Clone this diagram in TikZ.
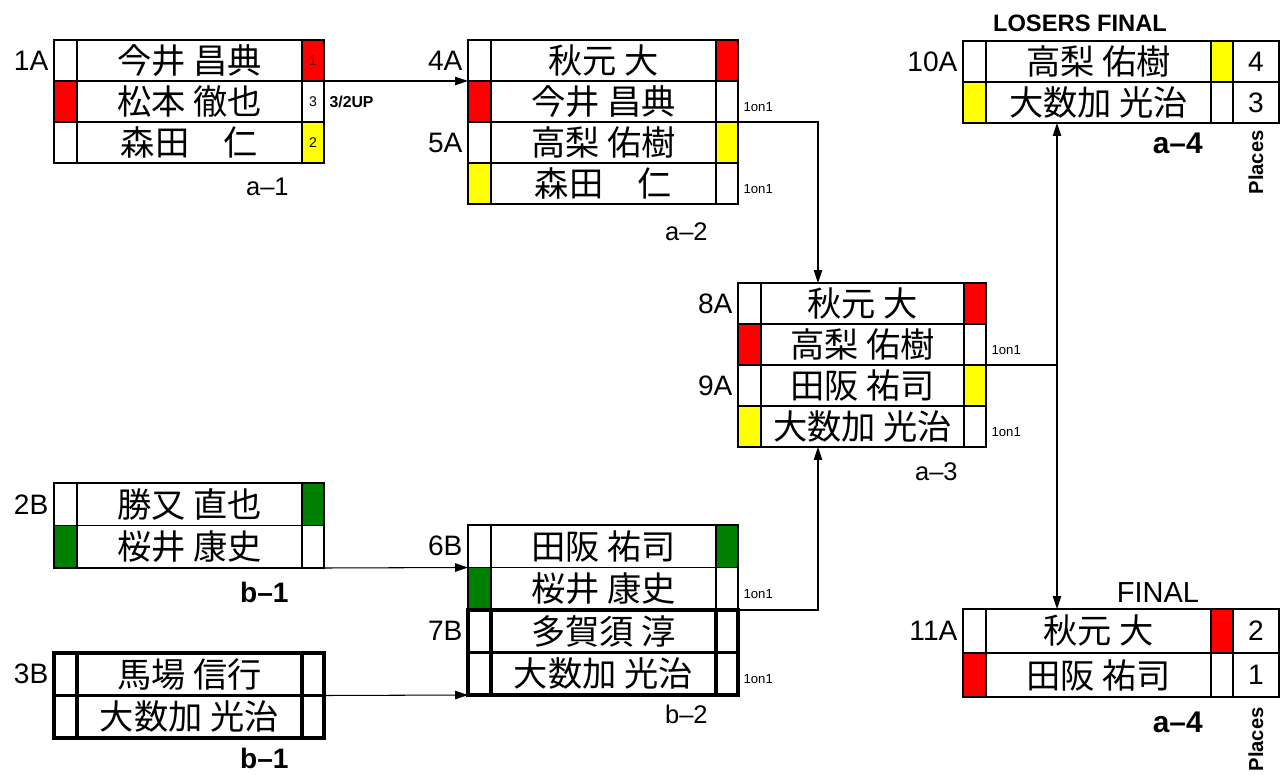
\documentclass[tikz,border=0pt]{standalone}
\usepackage{fontspec}
\setmainfont{Liberation Sans}
\newfontfamily\jp{Noto Sans CJK JP}
\usepackage{tikz}
\usetikzlibrary{arrows.meta,positioning}
\definecolor{winRed}{HTML}{FF0000}
\definecolor{winYellow}{HTML}{FFFF00}
\definecolor{winGreen}{HTML}{008000}
\newcommand{\namew}{4.5cm}
\newcommand{\rowh}{0.82cm}
\newcommand{\cellw}{1.1pt}
% one row of a match: seed cell, name, mark
\newcommand{\plrow}[7]{%
  \node[seed,fill=#4] (#1l) at (#2,#3) {};
  \node[pname,right=0pt of #1l] (#1n) {#5};
  \node[markcell,fill=#6,right=0pt of #1n] (#1r) {#7};}

\begin{document}
\begin{tikzpicture}[
  x=0.02cm,y=-0.02cm,
  cell/.style={draw,line width=\cellw,minimum height=\rowh,inner sep=0pt,outer sep=0pt},
  seed/.style={cell,minimum width=0.46cm,anchor=north west},
  pname/.style={cell,fill=white,minimum width=\namew,font=\jp\fontsize{19.5}{22}\selectfont},
  markcell/.style={cell,minimum width=0.44cm,font=\fontsize{8}{9}\selectfont},
  place/.style={cell,fill=white,minimum width=0.92cm,font=\fontsize{16}{18}\selectfont},
  tag/.style={font=\fontsize{16}{18}\selectfont,inner sep=1pt},
  rlab/.style={font=\fontsize{14.5}{16}\selectfont,anchor=north east,inner sep=0pt},
  blab/.style={rlab,font=\bfseries\fontsize{16}{18}\selectfont},
  note/.style={font=\fontsize{7.5}{8}\selectfont,inner sep=1pt,anchor=west},
  arr/.style={-{Triangle[length=2.6mm,width=1.7mm]},line width=0.6pt}
]
\useasboundingbox (0,0) rectangle (1280,774);

% a-1
\plrow{a1p1}{54}{40}{white}{今井 昌典}{winRed}{\textcolor{red!45!black}{1}}
\plrow{a1p2}{54}{81}{winRed}{松本 徹也}{white}{3}
\plrow{a1p3}{54}{122}{white}{森田　仁}{winYellow}{2}
\node[tag,left=2pt of a1p1l] (t1A) {1A};
\node[note,font=\bfseries\fontsize{9}{10}\selectfont] (up1) at ([xshift=2pt]a1p2r.east) {3/2UP};
\node[rlab] (la1) at ([shift={(-0.26cm,-0.3cm)}]a1p3n.south east) {a--1};

% a-2
\plrow{a2p1}{468}{40}{white}{秋元 大}{winRed}{}
\plrow{a2p2}{468}{81}{winRed}{今井 昌典}{white}{}
\plrow{a2p3}{468}{122}{white}{高梨 佑樹}{winYellow}{}
\plrow{a2p4}{468}{163}{winYellow}{森田　仁}{white}{}
\node[tag,left=2pt of a2p1l] (t4A) {4A};
\node[tag,left=2pt of a2p3l] (t5A) {5A};
\node[note] (n2a) at ([shift={(2pt,-3pt)}]a2p2r.east) {1on1};
\node[note] (n2b) at ([shift={(2pt,-3pt)}]a2p4r.east) {1on1};
\node[rlab] (la2) at ([shift={(-0.16cm,-0.36cm)}]a2p4n.south east) {a--2};

% a-3
\begin{scope}
\renewcommand{\namew}{4.06cm}
\plrow{a3p1}{738}{283}{white}{秋元 大}{winRed}{}
\plrow{a3p2}{738}{324}{winRed}{高梨 佑樹}{white}{}
\plrow{a3p3}{738}{365}{white}{田阪 祐司}{winYellow}{}
\plrow{a3p4}{738}{406}{winYellow}{大数加 光治}{white}{}
\end{scope}
\node[tag,left=2pt of a3p1l] (t8A) {8A};
\node[tag,left=2pt of a3p3l] (t9A) {9A};
\node[note] (n3a) at ([shift={(2pt,-3pt)}]a3p2r.east) {1on1};
\node[note] (n3b) at ([shift={(2pt,-3pt)}]a3p4r.east) {1on1};
\node[rlab] (la3) at ([shift={(-0.12cm,-0.3cm)}]a3p4n.south east) {a--3};

% losers final
\plrow{lfp1}{963}{41}{white}{高梨 佑樹}{winYellow}{}
\plrow{lfp2}{963}{82}{winYellow}{大数加 光治}{white}{}
\node[place,right=0pt of lfp1r] (lfp1p) {4};
\node[place,right=0pt of lfp2r] (lfp2p) {3};
\node[tag,left=2pt of lfp1l] (t10A) {10A};
\node[font=\bfseries\fontsize{13.5}{15}\selectfont,inner sep=0pt] (lfhead) at (1080,23) {LOSERS FINAL};
\node[blab,font=\bfseries\fontsize{17}{19}\selectfont] (la4a) at ([shift={(-0.16cm,-0.2cm)}]lfp2n.south east) {a--4};
\node[rotate=90,anchor=east,inner sep=0pt,font=\bfseries\fontsize{11.5}{13}\selectfont] (pl1) at ([yshift=-0.14cm]lfp2p.south) {Places};

% final
\begin{scope}
\renewcommand{\rowh}{0.88cm}
\plrow{fnp1}{963}{609}{white}{秋元 大}{winRed}{}
\plrow{fnp2}{963}{653}{winRed}{田阪 祐司}{white}{}
\node[place,right=0pt of fnp1r] (fnp1p) {2};
\node[place,right=0pt of fnp2r] (fnp2p) {1};
\end{scope}
\node[tag,left=2pt of fnp1l] (t11A) {11A};
\node[font=\fontsize{16.5}{18}\selectfont,inner sep=0pt] (fnhead) at (1158,593) {FINAL};
\node[blab,font=\bfseries\fontsize{17}{19}\selectfont] (la4b) at ([shift={(-0.16cm,-0.3cm)}]fnp2n.south east) {a--4};
\node[rotate=90,anchor=east,inner sep=0pt,font=\bfseries\fontsize{11.5}{13}\selectfont] (pl2) at ([yshift=-0.2cm]fnp2p.south) {Places};

% b-1
\begin{scope}
\renewcommand{\rowh}{0.85cm}
\plrow{b1p1}{54}{483}{white}{勝又 直也}{winGreen}{}
\plrow{b1p2}{54}{525.5}{winGreen}{桜井 康史}{white}{}
\end{scope}
\begin{scope}
\renewcommand{\rowh}{0.85cm}
\renewcommand{\cellw}{1.8pt}
\plrow{b1q1}{54}{653}{white}{馬場 信行}{white}{}
\plrow{b1q2}{54}{695.5}{white}{大数加 光治}{white}{}
\end{scope}
\node[tag,left=2pt of b1p1l] (t2B) {2B};
\node[tag,left=2pt of b1q1l] (t3B) {3B};
\node[blab] (lb1a) at ([shift={(-0.26cm,-0.28cm)}]b1p2n.south east) {b--1};
\node[blab] (lb1b) at ([shift={(-0.26cm,-0.2cm)}]b1q2n.south east) {b--1};

% b-2
\begin{scope}
\renewcommand{\rowh}{0.85cm}
\plrow{b2p1}{468}{525}{white}{田阪 祐司}{winGreen}{}
\plrow{b2p2}{468}{567.5}{winGreen}{桜井 康史}{white}{}
\renewcommand{\cellw}{1.8pt}
\plrow{b2p3}{468}{610}{white}{多賀須 淳}{white}{}
\plrow{b2p4}{468}{652.5}{white}{大数加 光治}{white}{}
\end{scope}
\node[tag,left=2pt of b2p1l] (t6B) {6B};
\node[tag,left=2pt of b2p3l] (t7B) {7B};
\node[note] (n4a) at ([shift={(2pt,-3pt)}]b2p2r.east) {1on1};
\node[note] (n4b) at ([shift={(2pt,-3pt)}]b2p4r.east) {1on1};
\node[rlab] (lb2) at ([shift={(-0.16cm,-0.2cm)}]b2p4n.south east) {b--2};

% connectors
\coordinate (a3in) at ([xshift=1.14cm]a3p1n.north west);
\coordinate (a3up) at ([xshift=1.14cm]a3p4n.south west);
\coordinate (lfin) at ([xshift=1.42cm]lfp2n.south west);
\coordinate (fnin) at ([xshift=1.42cm]fnp1n.north west);
\draw[arr] (a1p1r.south east) -- (a2p1l.south west);
\draw[arr] (a2p2r.south east) -| (a3in);
\draw[arr] (b1p2r.south east) -- (b2p1l.south west);
\draw[arr] (b1q1r.south east) -- (b2p4l.south west);
\draw[arr] (b2p2r.south east) -| (a3up);
\draw[line width=0.6pt] (a3p2r.south east) -- (a3p2r.south east -| lfin) coordinate (split);
\draw[arr] (split) -- (lfin);
\draw[arr] (split) -- (fnin);
\end{tikzpicture}
\end{document}
